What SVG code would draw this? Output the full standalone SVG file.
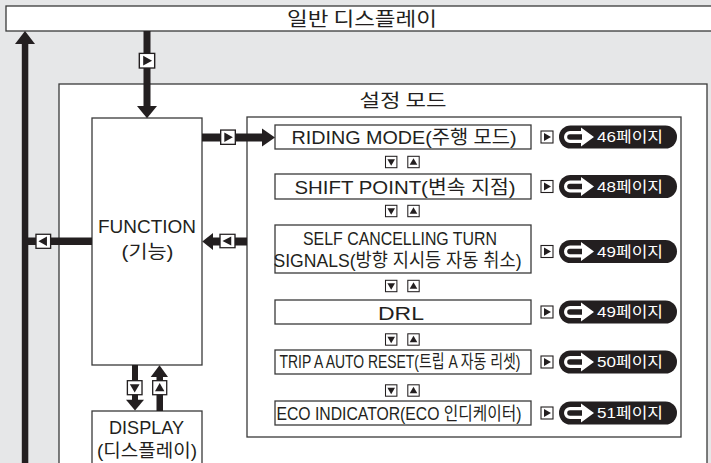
<svg xmlns="http://www.w3.org/2000/svg" width="711" height="463" viewBox="0 0 711 463">
<defs>
<style>
.t{font-family:"Liberation Sans","Noto Sans CJK KR",sans-serif;fill:#231f20;}
.k{font-family:"Noto Sans CJK KR","Liberation Sans",sans-serif;fill:#231f20;}
.box{fill:#fff;stroke:#3a3a3a;stroke-width:1.3;}
.thick{fill:#231f20;}
.btn{fill:#fff;stroke:#231f20;stroke-width:1.1;}
.tri{fill:#231f20;}
.pill{fill:#231f20;}
.pt{font-family:"Liberation Sans","Noto Sans CJK KR",sans-serif;fill:#fff;font-size:15px;}
</style>
<g id="bR"><rect class="btn" x="-6" y="-6" width="12" height="12"/><path class="tri" d="M-3,-4L4,0L-3,4Z"/></g>
<g id="bL"><rect class="btn" x="-6" y="-6" width="12" height="12"/><path class="tri" d="M3,-4L-4,0L3,4Z"/></g>
<g id="bD"><rect class="btn" x="-6" y="-6" width="12" height="12"/><path class="tri" d="M-4,-3L4,-3L0,4Z"/></g>
<g id="bU"><rect class="btn" x="-6" y="-6" width="12" height="12"/><path class="tri" d="M-4,3L4,3L0,-4Z"/></g>
<g id="pill">
<rect class="pill" x="0" y="-11.5" width="118" height="23" rx="11.5"/>
<path fill="#fff" d="M11,-6H22V-9.5L35,0L22,9.5V6H11A6,6 0 0 1 11,-6Z"/>
<path fill="#231f20" d="M11,-2.8H23V2.8H11A2.8,2.8 0 0 1 11,-2.8Z"/>
</g>
</defs>

<rect x="0" y="0" width="711" height="463" fill="#e6e7e8"/>

<g id="general-display">
<rect class="box" x="6" y="6" width="710" height="25"/>
<text class="k" x="362" y="26" font-size="19" text-anchor="middle" textLength="150" lengthAdjust="spacingAndGlyphs">일반 디스플레이</text>
</g>

<g id="settings-mode">
<rect class="box" x="59" y="84" width="648" height="400"/>
<text class="k" x="403" y="107" font-size="18" text-anchor="middle" textLength="87" lengthAdjust="spacingAndGlyphs">설정 모드</text>
<rect class="box" x="247" y="117" width="434" height="320"/>
</g>

<g id="function">
<rect class="box" x="92" y="118" width="110" height="247"/>
<text class="t" x="147" y="233" font-size="19" text-anchor="middle" textLength="98" lengthAdjust="spacingAndGlyphs">FUNCTION</text>
<text class="t" x="147.5" y="258" font-size="18" text-anchor="middle" textLength="52" lengthAdjust="spacingAndGlyphs">(기능)</text>
</g>

<g id="display">
<rect class="box" x="92" y="411" width="110" height="60"/>
<text class="t" x="146.5" y="434" font-size="18" text-anchor="middle" textLength="75" lengthAdjust="spacingAndGlyphs">DISPLAY</text>
<text class="t" x="147" y="457" font-size="18" text-anchor="middle" textLength="100" lengthAdjust="spacingAndGlyphs">(디스플레이)</text>
</g>

<g id="riding-mode">
<rect class="box" x="275" y="125" width="256" height="24"/>
<text class="t" x="404" y="144" font-size="19" text-anchor="middle" textLength="225" lengthAdjust="spacingAndGlyphs">RIDING MODE(주행 모드)</text>
</g>
<g id="shift-point">
<rect class="box" x="275" y="174" width="256" height="25"/>
<text class="t" x="405" y="194" font-size="19" text-anchor="middle" textLength="221" lengthAdjust="spacingAndGlyphs">SHIFT POINT(변속 지점)</text>
</g>
<g id="self-cancelling">
<rect class="box" x="275" y="225" width="256" height="48"/>
<text class="t" x="400" y="244.5" font-size="19" text-anchor="middle" textLength="194" lengthAdjust="spacingAndGlyphs">SELF CANCELLING TURN</text>
<text class="t" x="397.5" y="267" font-size="19" text-anchor="middle" textLength="248" lengthAdjust="spacingAndGlyphs">SIGNALS(방향 지시등 자동 취소)</text>
</g>
<g id="drl">
<rect class="box" x="275" y="300" width="256" height="24"/>
<text class="t" x="401" y="319.5" font-size="19" text-anchor="middle" textLength="46" lengthAdjust="spacingAndGlyphs">DRL</text>
</g>
<g id="trip-a">
<rect class="box" x="275" y="350" width="256" height="24"/>
<text class="t" x="400" y="367.5" font-size="18" text-anchor="middle" textLength="241" lengthAdjust="spacingAndGlyphs">TRIP A AUTO RESET(트립 A 자동 리셋)</text>
</g>
<g id="eco">
<rect class="box" x="275" y="401" width="256" height="24"/>
<text class="t" x="399" y="419.5" font-size="18" text-anchor="middle" textLength="245" lengthAdjust="spacingAndGlyphs">ECO INDICATOR(ECO 인디케이터)</text>
</g>

<g id="page-refs">
<use href="#bR" transform="translate(547,137)"/>
<use href="#pill" transform="translate(559,137)"/>
<text class="pt" x="597" y="142" textLength="66" lengthAdjust="spacingAndGlyphs">46페이지</text>
<use href="#bR" transform="translate(547,186.5)"/>
<use href="#pill" transform="translate(559,186.5)"/>
<text class="pt" x="597" y="191.5" textLength="66" lengthAdjust="spacingAndGlyphs">48페이지</text>
<use href="#bR" transform="translate(547,251.5)"/>
<use href="#pill" transform="translate(559,251.5)"/>
<text class="pt" x="597" y="256.5" textLength="66" lengthAdjust="spacingAndGlyphs">49페이지</text>
<use href="#bR" transform="translate(547,312)"/>
<use href="#pill" transform="translate(559,312)"/>
<text class="pt" x="597" y="317" textLength="66" lengthAdjust="spacingAndGlyphs">49페이지</text>
<use href="#bR" transform="translate(547,362)"/>
<use href="#pill" transform="translate(559,362)"/>
<text class="pt" x="597" y="367" textLength="66" lengthAdjust="spacingAndGlyphs">50페이지</text>
<use href="#bR" transform="translate(547,413)"/>
<use href="#pill" transform="translate(559,413)"/>
<text class="pt" x="597" y="418" textLength="66" lengthAdjust="spacingAndGlyphs">51페이지</text>
</g>

<g id="connectors">
<!-- left return arrow to general display -->
<rect class="thick" x="21.8" y="44" width="6.5" height="420"/>
<path class="thick" d="M25,31L35,44H15Z"/>
<!-- FUNCTION to left -->
<rect class="thick" x="25" y="237.5" width="67" height="7.5"/>
<use href="#bL" transform="translate(43.3,241.3) scale(1.22,1.17)"/>
<!-- general display down to FUNCTION -->
<rect class="thick" x="143.5" y="31" width="7" height="76"/>
<path class="thick" d="M137,106H157L147,118.3Z"/>
<use href="#bR" transform="translate(147,60.7) scale(1.28,1.22)"/>
<!-- FUNCTION to RIDING MODE -->
<rect class="thick" x="202" y="133.5" width="61" height="8"/>
<path class="thick" d="M262,128.5L275,137.5L262,146.5Z"/>
<use href="#bR" transform="translate(228,137.2) scale(1.22,1.19)"/>
<!-- settings back to FUNCTION -->
<rect class="thick" x="212" y="237.5" width="35" height="8"/>
<path class="thick" d="M213,233L202.3,241.5L213,250Z"/>
<use href="#bL" transform="translate(227.5,241) scale(1.25,1.12)"/>
<!-- FUNCTION to DISPLAY -->
<rect class="thick" x="132" y="365" width="6" height="36"/>
<path class="thick" d="M126,399.7H144L135,410.5Z"/>
<use href="#bD" transform="translate(134.7,387.7) scale(1.22,1.17)"/>
<!-- DISPLAY to FUNCTION -->
<rect class="thick" x="156.5" y="376" width="6.5" height="35"/>
<path class="thick" d="M150.7,377H168L159.5,365.3Z"/>
<use href="#bU" transform="translate(159.7,387.7) scale(1.17,1.17)"/>
<!-- list navigation -->
<use href="#bD" transform="translate(391.2,162) scale(0.95)"/>
<use href="#bU" transform="translate(413.5,162) scale(0.95)"/>
<use href="#bD" transform="translate(391.2,211) scale(0.95)"/>
<use href="#bU" transform="translate(413.5,211) scale(0.95)"/>
<use href="#bD" transform="translate(391.2,286) scale(0.95)"/>
<use href="#bU" transform="translate(413.5,286) scale(0.95)"/>
<use href="#bD" transform="translate(391.2,339.5) scale(0.95)"/>
<use href="#bU" transform="translate(413.5,339.5) scale(0.95)"/>
<use href="#bD" transform="translate(391.2,390.5) scale(0.95)"/>
<use href="#bU" transform="translate(413.5,390.5) scale(0.95)"/>
</g>
</svg>
